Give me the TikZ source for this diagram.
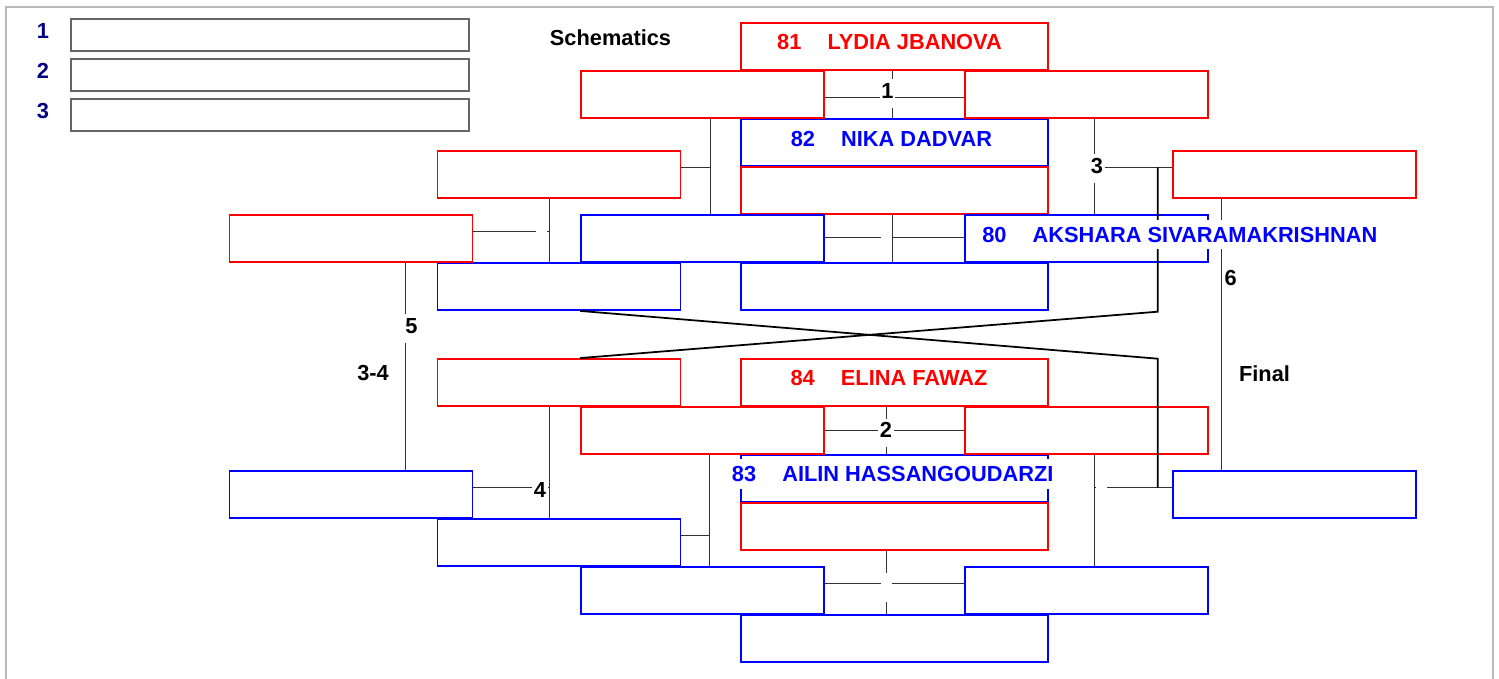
\documentclass[tikz,border=0pt]{standalone}
\usepackage{fontspec}
\setmainfont{Liberation Sans}

\definecolor{framegray}{RGB}{185,185,185}
\definecolor{legendgray}{RGB}{102,102,102}
\definecolor{navy}{RGB}{0,0,128}

\begin{document}
\begin{tikzpicture}[x=0.02cm, y=-0.02cm,
   every node/.style={font=\fontsize{12.4pt}{14.9pt}\selectfont\bfseries},
   redbox/.style={draw=red, line width=1.05pt, minimum width=4.86cm, minimum height=0.94cm, inner sep=0pt},
   bluebox/.style={redbox, draw=blue},
   wideredbox/.style={redbox, minimum width=6.14cm},
   widebluebox/.style={bluebox, minimum width=6.14cm},
   legendbox/.style={draw=legendgray, line width=1.05pt, minimum width=7.96cm, minimum height=0.64cm, inner sep=0pt},
   tag/.style={fill=white, inner xsep=1pt, inner ysep=2pt, text height=9pt, text depth=3.5pt, minimum width=0.22cm},
   player/.style={fill=white, inner xsep=2pt, inner ysep=4pt},
   wire/.style={black!80, line width=0.5pt},
   crossline/.style={black, line width=1pt}]
   \useasboundingbox (0,0) rectangle (1499,679);

   % Frame
   \draw[framegray, line width=1.2pt] (6,700) -- (6,7) -- (1493,7) -- (1493,700);

   % Legend
   \node[legendbox] (leg1) at (270,35) {};
   \node[legendbox] (leg2) at (270,75) {};
   \node[legendbox] (leg3) at (270,115) {};
   \node[text=navy] (num1) at (43,31) {1};
   \node[text=navy] (num2) at (43,71) {2};
   \node[text=navy] (num3) at (43,111) {3};

   % Headings
   \node (schem) at (610.5,37.5) {Schematics};
   \node (third) at (373,373.4) {3-4};
   \node (final) at (1264.5,373.4) {Final};

   % Middle column
   \node[wideredbox] (m1) at (894.5,46.5) {};
   \node[widebluebox] (m2) at (894.5,142.5) {};
   \node[wideredbox] (m3) at (894.5,190.5) {};
   \node[widebluebox] (m4) at (894.5,286.5) {};
   \node[wideredbox] (m5) at (894.5,382.5) {};
   \node[widebluebox] (m6) at (894.5,478.5) {};
   \node[wideredbox] (m7) at (894.5,526.5) {};
   \node[widebluebox] (m8) at (894.5,638.5) {};

   % First round, left and right
   \node[redbox] (la1) at (702.5,94.5) {};
   \node[bluebox] (la2) at (702.5,238.5) {};
   \node[redbox] (la3) at (702.5,430.5) {};
   \node[bluebox] (la4) at (702.5,590.5) {};
   \node[redbox] (ra1) at (1086.5,94.5) {};
   \node[bluebox] (ra2) at (1086.5,238.5) {};
   \node[redbox] (ra3) at (1086.5,430.5) {};
   \node[bluebox] (ra4) at (1086.5,590.5) {};

   % Repechage
   \node[redbox] (lb1) at (559,174.5) {};
   \node[bluebox] (lb2) at (559,286.5) {};
   \node[redbox] (lb3) at (559,382.5) {};
   \node[bluebox] (lb4) at (559,542.5) {};
   \node[redbox] (lc1) at (351,238.5) {};
   \node[bluebox] (lc2) at (351,494.5) {};

   % Final
   \node[redbox] (rb1) at (1294.5,174.5) {};
   \node[bluebox] (rb2) at (1294.5,494.5) {};

   % Bouts in the middle
   \coordinate (j1) at (892,97);
   \draw[wire] (la1.east |- j1) -- (ra1.west |- j1);
   \draw[wire] (j1 |- m1.south) -- (j1 |- m2.north);
   \coordinate (j2) at (892,237.7);
   \draw[wire] (la2.east |- j2) -- (ra2.west |- j2);
   \draw[wire] (j2 |- m3.south) -- (j2 |- m4.north);
   \coordinate (j3) at (886,430);
   \draw[wire] (la3.east |- j3) -- (ra3.west |- j3);
   \draw[wire] (j3 |- m5.south) -- (j3 |- m6.north);
   \coordinate (j4) at (886,583.7);
   \draw[wire] (la4.east |- j4) -- (ra4.west |- j4);
   \draw[wire] (j4 |- m7.south) -- (j4 |- m8.north);

   % Left side
   \coordinate (j5) at (710,167.7);
   \draw[wire] (j5 |- la1.south) -- (j5 |- la2.north);
   \draw[wire] (lb1.east |- j5) -- (j5);
   \coordinate (j6) at (709.5,535.7);
   \draw[wire] (j6 |- la3.south) -- (j6 |- la4.north);
   \draw[wire] (lb4.east |- j6) -- (j6);
   \coordinate (j7) at (549.7,231.3);
   \draw[wire] (j7 |- lb1.south) -- (j7 |- lb2.north);
   \draw[wire] (lc1.east |- j7) -- (j7);
   \coordinate (j8) at (549.8,487.3);
   \draw[wire] (j8 |- lb3.south) -- (j8 |- lb4.north);
   \draw[wire] (lc2.east |- j8) -- (j8);
   \coordinate (j9) at (405.7,326);
   \draw[wire] (j9 |- lc1.south) -- (j9 |- lc2.north);

   % Right side
   \coordinate (j10) at (1094,167.3);
   \draw[wire] (j10 |- ra1.south) -- (j10 |- ra2.north);
   \draw[wire] (j10) -- (rb1.west |- j10);
   \coordinate (j11) at (1094,487.7);
   \draw[wire] (j11 |- ra3.south) -- (j11 |- ra4.north);
   \draw[wire] (j11) -- (rb2.west |- j11);
   \coordinate (j12) at (1221.7,278);
   \draw[wire] (j12 |- rb1.south) -- (j12 |- rb2.north);

   % Crossing lines
   \coordinate (x1) at (1157.7,311.7);
   \coordinate (x2) at (1157.7,358.7);
   \draw[crossline] (x1 |- j10) -- (x1) -- (la3.west |- lb3.north);
   \draw[crossline] (la2.west |- lb2.south) -- (x2) -- (x2 |- j11);

   % Bout numbers
   \node[tag] (t1) at (887.5,93.5) {1};
   \node[tag] (t1b) at (886.5,240.7) {};
   \node[tag] (t2) at (886,433) {2};
   \node[tag] (t2b) at (886.5,587.5) {};
   \node[tag] (t3) at (1097,168.5) {3};
   \node[tag] (t3b) at (1101.5,490.7) {};
   \node[tag] (t4) at (540,493) {4};
   \node[tag] (t4b) at (541,234.3) {};
   \node[tag] (t5) at (411.5,328.5) {5};
   \node[tag, anchor=west] (t6) at (1222.5,280.5) {6};

   % Names
   \node[player, text=red] (n81) at (889.5,42.5) {81\hspace{1.2em}LYDIA JBANOVA};
   \node[player, text=blue] (n82) at (891.4,139) {82\hspace{1.2em}NIKA DADVAR};
   \node[player, text=blue, anchor=west] (n80) at (978.5,234.5) {80\hspace{1.2em}AKSHARA SIVARAMAKRISHNAN};
   \node[player, text=red] (n84) at (889,378) {84\hspace{1.2em}ELINA FAWAZ};
   \node[player, text=blue] (n83) at (892.7,474) {83\hspace{1.2em}AILIN HASSANGOUDARZI};
\end{tikzpicture}
\end{document}
